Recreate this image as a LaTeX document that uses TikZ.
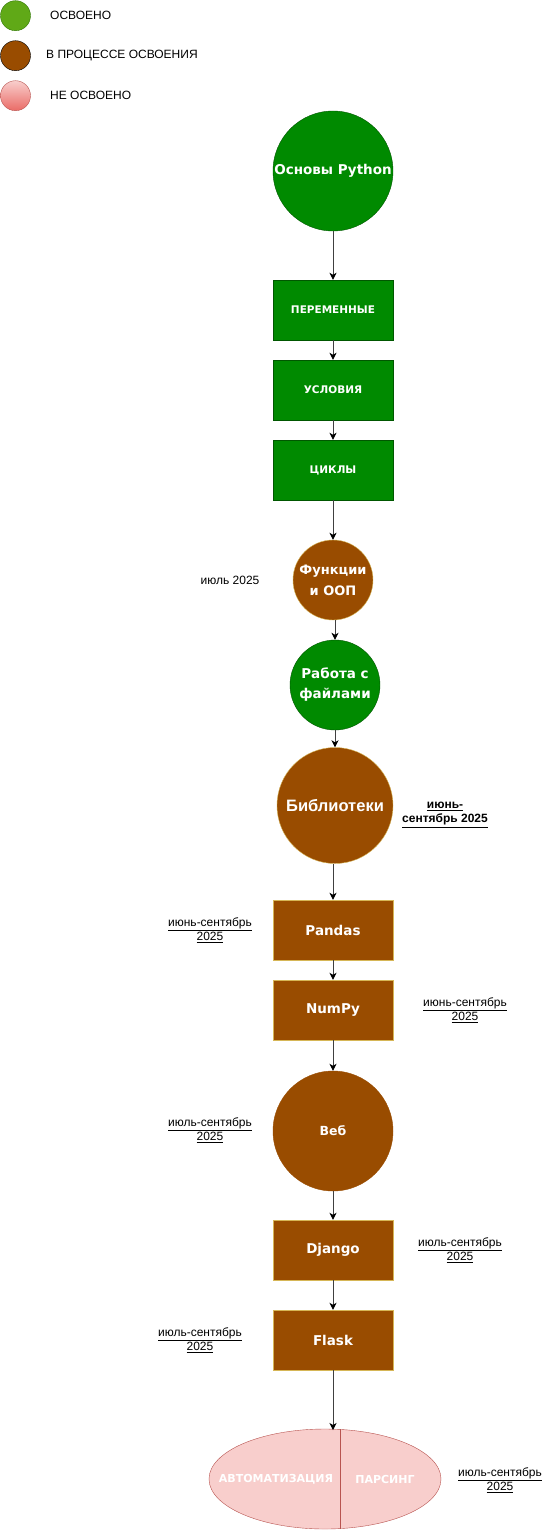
\documentclass[tikz,border=0pt]{standalone}
\usepackage{fontspec}
\setmainfont{Liberation Sans}
\newfontfamily\nodefont{DejaVu Sans}
\usetikzlibrary{arrows.meta,shapes.geometric}
\definecolor{lgreen}{HTML}{60A917}
\definecolor{lgreenD}{HTML}{2D7600}
\definecolor{brownA}{HTML}{994C00}
\definecolor{goldA}{HTML}{D6B656}
\definecolor{dgreen}{HTML}{008A00}
\definecolor{dgreenD}{HTML}{005700}
\definecolor{pinkA}{HTML}{F8CECC}
\definecolor{pinkB}{HTML}{EA6B66}
\definecolor{pinkD}{HTML}{B85450}
\tikzset{
  gcirc/.style={circle, fill=dgreen, draw=dgreenD, text=white, inner sep=0pt, align=center},
  bcirc/.style={circle, fill=brownA, draw=goldA, text=white, inner sep=0pt, align=center},
  grect/.style={rectangle, fill=dgreen, draw=dgreenD, text=white, minimum width=120pt, minimum height=60pt, inner sep=0pt,
    font=\nodefont\bfseries\fontsize{10.5}{12}\selectfont},
  brect/.style={rectangle, fill=brownA, draw=goldA, text=white, minimum width=120pt, minimum height=60pt, inner sep=0pt,
    font=\nodefont\bfseries\fontsize{13.5}{15}\selectfont},
  lbl/.style={font=\fontsize{12}{14}\selectfont, align=center, inner sep=0pt},
  legtxt/.style={font=\fontsize{12}{14}\selectfont, anchor=west, inner sep=0pt},
  arr/.style={draw=black!75, line width=0.9pt, -{Stealth[length=7pt,width=7pt,inset=2pt,black]}},
}
\begin{document}
\begin{tikzpicture}[x=1pt,y=-1pt]
\useasboundingbox[fill=white] (0,0) rectangle (551,1530);
% legend
\node[circle, minimum size=30pt, inner sep=0pt, fill=lgreen, draw=lgreenD] (lg1) at (15.5,15.7) {};
\node[legtxt] (lt1) at (50,15.7) {ОСВОЕНО};
\node[circle, minimum size=30pt, inner sep=0pt, fill=brownA, draw=black] (lg2) at (15.5,55.7) {};
\node[legtxt] (lt2) at (46,55.7) {В ПРОЦЕССЕ ОСВОЕНИЯ};
\node[circle, minimum size=30pt, inner sep=0pt, top color=pinkA, bottom color=pinkB, draw=pinkD] (lg3) at (15.5,95.7) {};
\node[legtxt] (lt3) at (50,95.7) {НЕ ОСВОЕНО};
% main column
\node[gcirc, minimum size=120pt, font=\nodefont\bfseries\fontsize{13.5}{15}\selectfont] (py) at (333,171) {Основы Python};
\node[grect] (per) at (333,310) {ПЕРЕМЕННЫЕ};
\node[grect] (usl) at (333,390) {УСЛОВИЯ};
\node[grect] (cyc) at (333,470) {ЦИКЛЫ};
\node[bcirc, minimum size=80pt, font=\nodefont\bfseries\fontsize{13}{21}\selectfont] (fun) at (333,580) {Функции\\и ООП};
\node[lbl] (funl) at (230,580) {июль 2025};
\node[gcirc, minimum size=90pt, font=\nodefont\bfseries\fontsize{13.5}{20}\selectfont] (fil) at (335,685) {Работа с\\файлами};
\node[bcirc, minimum size=116pt, font=\bfseries\fontsize{16.5}{18}\selectfont] (lib) at (335,805.5) {Библиотеки};
\node[lbl, font=\bfseries\fontsize{12}{14}\selectfont] (libl) at (445,815) {\underline{июнь-}\\\underline{сентябрь 2025}};
\node[brect] (pan) at (333,930) {Pandas};
\node[lbl] (panl) at (210,930) {\underline{июнь-сентябрь}\\\underline{2025}};
\node[brect] (num) at (333,1010) {NumPy};
\node[lbl] (numl) at (465,1010) {\underline{июнь-сентябрь}\\\underline{2025}};
\node[circle, fill=brownA, draw=brownA, text=white, inner sep=0pt, minimum size=120pt, font=\nodefont\bfseries\fontsize{12.5}{14}\selectfont] (web) at (333,1131) {Веб};
\node[lbl] (webl) at (210,1130) {\underline{июль-сентябрь}\\\underline{2025}};
\node[brect] (dj) at (333,1250) {Django};
\node[lbl] (djl) at (460,1250) {\underline{июль-сентябрь}\\\underline{2025}};
\node[brect] (fl) at (333,1340) {Flask};
\node[lbl] (fll) at (200,1340) {\underline{июль-сентябрь}\\\underline{2025}};
% ellipse
\node[ellipse, fill=pinkA, draw=pinkD, minimum width=232pt, minimum height=100pt, inner sep=0pt] (ell) at (325,1479) {};
\draw[pinkD] (340,1429.4) -- (340,1528.6);
\node[text=white, font=\nodefont\bfseries\fontsize{11}{12}\selectfont, inner sep=0pt] (aut) at (276,1479) {АВТОМАТИЗАЦИЯ};
\node[text=white, font=\nodefont\bfseries\fontsize{11}{12}\selectfont, inner sep=0pt] (par) at (385,1479) {ПАРСИНГ};
\node[lbl] (elll) at (500,1480) {\underline{июль-сентябрь}\\\underline{2025}};
\coordinate (ein) at (333,1430);
% arrows
\draw[arr] (py) -- (per);
\draw[arr] (per) -- (usl);
\draw[arr] (usl) -- (cyc);
\draw[arr] (cyc) -- (fun);
\draw[arr] (fun.south -| fil.north) -- (fil.north);
\draw[arr] (fil) -- (lib);
\draw[arr] (lib.south -| pan.north) -- (pan.north);
\draw[arr] (pan) -- (num);
\draw[arr] (num) -- (web);
\draw[arr] (web) -- (dj);
\draw[arr] (dj) -- (fl);
\draw[arr] (fl.south) -- (ein);
\end{tikzpicture}
\end{document}
